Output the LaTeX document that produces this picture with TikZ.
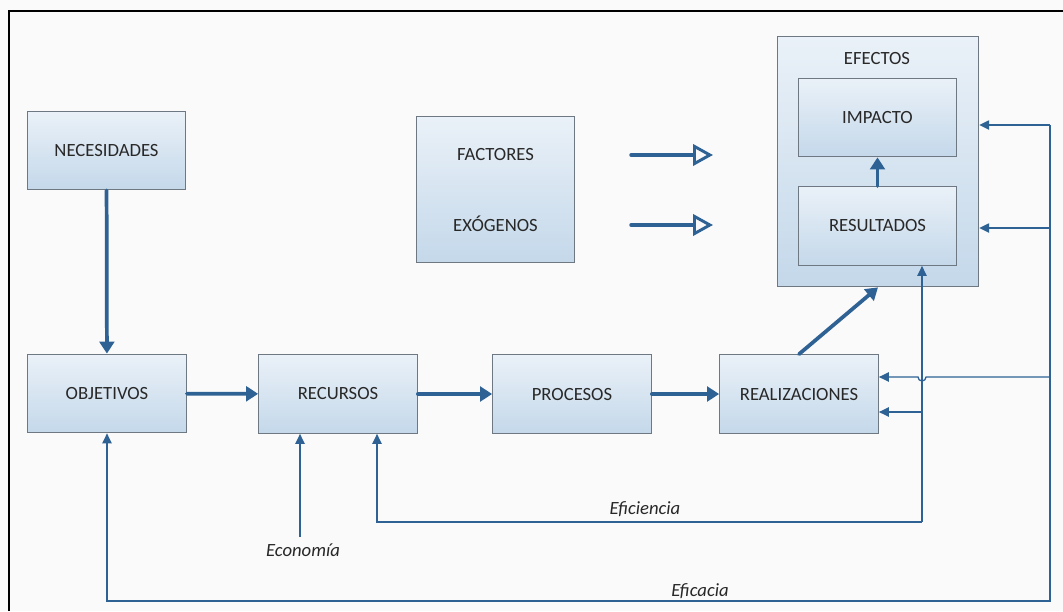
\documentclass[tikz,border=0pt]{standalone}
\usepackage{fontspec}
\setmainfont{Carlito}
\usetikzlibrary{arrows.meta,positioning}
\definecolor{arrowblue}{RGB}{47,98,148}
\definecolor{boxline}{RGB}{110,120,130}
\definecolor{boxtop}{RGB}{234,241,248}
\definecolor{boxbot}{RGB}{196,216,234}
\definecolor{paper}{RGB}{250,250,250}
\definecolor{ink}{RGB}{40,40,40}
\begin{document}
\begin{tikzpicture}[x=0.75pt,y=-0.75pt,
  box/.style={draw=boxline,line width=0.8pt,top color=boxtop,bottom color=boxbot,
    minimum width=119pt,minimum height=59pt,inner sep=0pt,text=ink,font=\fontsize{14}{16}\selectfont},
  txt/.style={text=ink,font=\fontsize{14}{16}\selectfont},
  flow/.style={draw=arrowblue,line width=2.8pt,line cap=round,-{Triangle[length=9pt,width=11pt]}},
  openflow/.style={draw=arrowblue,line width=2.6pt,line cap=round,-{Triangle[open,length=15pt,width=16pt,line width=2.2pt]}},
  fb/.style={draw=arrowblue,line width=1pt,-{Triangle[length=7.5pt,width=7pt]}},
  lab/.style={text=ink,font=\itshape\fontsize{14}{16}\selectfont}]
\useasboundingbox[fill=paper] (0,0) rectangle (1063,611);
\draw[line width=1.5pt] (9,611) -- (9,11) -- (1063,11);

% upper row
\node[box] at (106.5,150.5) (nec) {NECESIDADES};
\node[box,minimum height=110pt] at (495.5,189.5) (fac) {};
\node[txt] at (495.5,155) (facA) {FACTORES};
\node[txt] at (495.5,224) (facB) {EXÓGENOS};
\node[box,minimum width=151pt,minimum height=188pt] at (878,161.5) (efe) {};
\node[txt] at (877,59) (efeLab) {EFECTOS};
\node[box] at (877.5,117.5) (imp) {IMPACTO};
\node[box] at (877.5,226) (res) {RESULTADOS};

% lower row
\node[box] at (107,393.5) (obj) {OBJETIVOS};
\node[box] at (338,394) (rec) {RECURSOS};
\node[box] at (572,394) (pro) {PROCESOS};
\node[box] at (799,394) (rea) {REALIZACIONES};

% main flow
\draw[flow] (nec) -- (obj);
\draw[flow] (obj) -- (rec);
\draw[flow] (rec) -- (pro);
\draw[flow] (pro) -- (rea);
\draw[flow] (rea.north) -- (efe.south);
\draw[flow] (res) -- (imp);

% exogenous factors
\coordinate (ex1) at (631,155);
\coordinate (ex2) at (631,225);
\draw[openflow] (ex1) -- ++(82,0);
\draw[openflow] (ex2) -- ++(82,0);

% feedback loops
\coordinate (busT) at (1050,125);
\coordinate (busR) at (1050,228);
\coordinate (busH) at (1050,377);
\coordinate (busB) at (1050,601);
\coordinate (inB) at (922,522);
\coordinate (inM) at (922,412);
\coordinate (eco) at (300,537);

\draw[fb] (busT) -- (busT -| efe.east);
\draw[fb] (busR) -- (busR -| efe.east);
\draw[fb] (busH) -- (926,377) arc[start angle=0,end angle=180,radius=4] -- (busH -| rea.east);
\draw[fb] (busT) -- (busB) -| (obj.south);
\draw[fb] (inB) -- (inB |- res.south);
\draw[fb] (inM) -- (inM -| rea.east);
\draw[fb] (inB) -| (rec.south -| 377,0);
\draw[fb] (eco) -- (eco |- rec.south);

% labels
\node[lab] at (303,550) (ecoLab) {Economía};
\node[lab] at (645,509) (efiLab) {Eficiencia};
\node[lab] at (700,591) (efcLab) {Eficacia};
\end{tikzpicture}
\end{document}
